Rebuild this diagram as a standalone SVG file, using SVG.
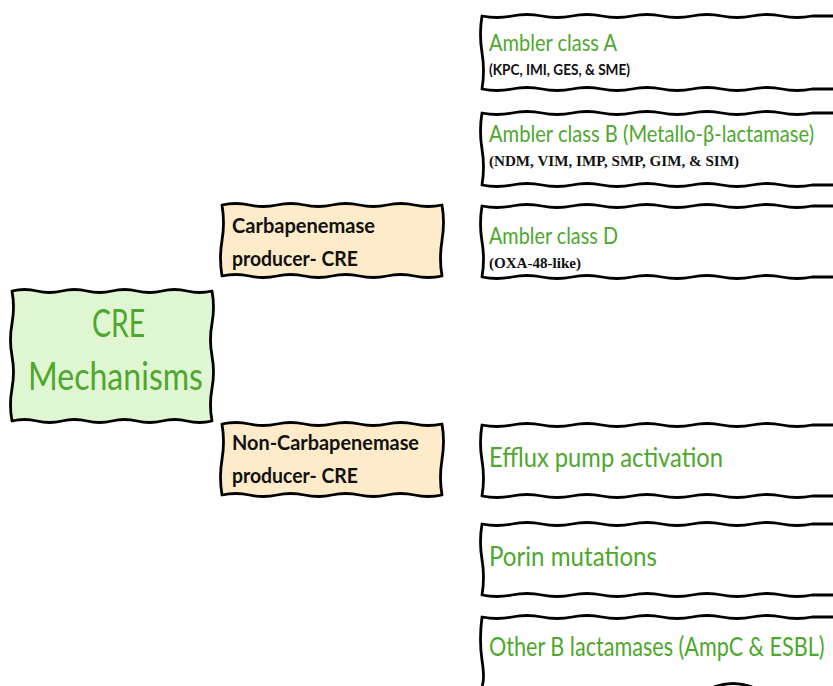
<svg xmlns="http://www.w3.org/2000/svg" width="833" height="686" viewBox="0 0 833 686">
<style>
.box{stroke:#000;stroke-width:2.8;stroke-linejoin:round;stroke-linecap:round;fill:#fff}
.open{stroke:#000;stroke-width:2.8;stroke-linejoin:round;fill:none}
.g{fill:#e0f6d2}
.o{fill:#fdebc9}
.gt{font-family:Lato,"Open Sans",sans-serif;fill:#4ea72e}
.bt{font-family:Lato,"Open Sans",sans-serif;font-weight:700;fill:#111}
.st{font-family:"Liberation Serif","Times New Roman",serif;font-weight:700;fill:#111}
</style>
<rect width="833" height="686" fill="#fff"/>
<g id="connectors"></g>
<g id="node-cre">
<path class="box g" d="M12,291 Q24.5,288 37,291 T62,291 T87,291 T112,291 T137,291 T162,291 T187,291 T212,291 Q215,307 212,323.5 T212,356 T212,388.5 T212,421 Q199.5,424 187,421 T162,421 T137,421 T112,421 T87,421 T62,421 T37,421 T12,421 Q9,405 12,388.5 T12,356 T12,323.5 T12,291 Z"/>
<text class="gt" x="92" y="337" font-size="38" textLength="53" lengthAdjust="spacingAndGlyphs">CRE</text>
<text class="gt" x="28" y="390" font-size="38" textLength="175" lengthAdjust="spacingAndGlyphs">Mechanisms</text>
</g>
<g id="node-carb">
<path class="box o" d="M222,205 Q235.75,202 249.5,205 T277,205 T304.5,205 T332,205 T359.5,205 T387,205 T414.5,205 T442,205 Q445,222 442,240.5 T442,276 Q428.25,279 414.5,276 T387,276 T359.5,276 T332,276 T304.5,276 T277,276 T249.5,276 T222,276 Q219,258 222,240.5 T222,205 Z"/>
<text class="bt" x="232" y="233" font-size="21" textLength="143" lengthAdjust="spacingAndGlyphs">Carbapenemase</text>
<text class="bt" x="232" y="266" font-size="21" textLength="126" lengthAdjust="spacingAndGlyphs">producer- CRE</text>
</g>
<g id="node-noncarb">
<path class="box o" d="M222,424 Q235.75,421 249.5,424 T277,424 T304.5,424 T332,424 T359.5,424 T387,424 T414.5,424 T442,424 Q445,441 442,459.5 T442,495 Q428.25,498 414.5,495 T387,495 T359.5,495 T332,495 T304.5,495 T277,495 T249.5,495 T222,495 Q219,477 222,459.5 T222,424 Z"/>
<text class="bt" x="232" y="450" font-size="21" textLength="187" lengthAdjust="spacingAndGlyphs">Non-Carbapenemase</text>
<text class="bt" x="232" y="483" font-size="21" textLength="126" lengthAdjust="spacingAndGlyphs">producer- CRE</text>
</g>
<g id="node-classA">
<path class="open" d="M833,16 L812,16 Q797,19 782,16 T752,16 T722,16 T692,16 T662,16 T632,16 T602,16 T572,16 T542,16 T512,16 T482,16 Q479,34 482,52.5 T482,89 Q497,92 512,89 T542,89 T572,89 T602,89 T632,89 T662,89 T692,89 T722,89 T752,89 T782,89 T812,89 L833,89"/>
<text class="gt" x="489" y="51" font-size="23" textLength="128" lengthAdjust="spacingAndGlyphs">Ambler class A</text>
<text class="bt" x="489" y="75" font-size="15" textLength="141" lengthAdjust="spacingAndGlyphs">(KPC, IMI, GES, &amp; SME)</text>
</g>
<g id="node-classB">
<path class="open" d="M833,113 L812,113 Q797,116 782,113 T752,113 T722,113 T692,113 T662,113 T632,113 T602,113 T572,113 T542,113 T512,113 T482,113 Q479,131 482,149 T482,185 Q497,188 512,185 T542,185 T572,185 T602,185 T632,185 T662,185 T692,185 T722,185 T752,185 T782,185 T812,185 L833,185"/>
<text class="gt" transform="translate(489,142) scale(0.876,1)" font-size="23">Ambler class B (Metallo-β-lactamase)</text>
<text class="st" x="489" y="166" font-size="15" textLength="250" lengthAdjust="spacingAndGlyphs">(NDM, VIM, IMP, SMP, GIM, &amp; SIM)</text>
</g>
<g id="node-classD">
<path class="open" d="M833,206 L812,206 Q797,209 782,206 T752,206 T722,206 T692,206 T662,206 T632,206 T602,206 T572,206 T542,206 T512,206 T482,206 Q479,224 482,241.5 T482,277 Q497,280 512,277 T542,277 T572,277 T602,277 T632,277 T662,277 T692,277 T722,277 T752,277 T782,277 T812,277 L833,277"/>
<text class="gt" x="489" y="244" font-size="23" textLength="129" lengthAdjust="spacingAndGlyphs">Ambler class D</text>
<text class="st" x="489" y="268" font-size="15" textLength="92" lengthAdjust="spacingAndGlyphs">(OXA-48-like)</text>
</g>
<g id="node-efflux">
<path class="open" d="M833,425 L812,425 Q797,428 782,425 T752,425 T722,425 T692,425 T662,425 T632,425 T602,425 T572,425 T542,425 T512,425 T482,425 Q479,443 482,460.5 T482,496 Q497,499 512,496 T542,496 T572,496 T602,496 T632,496 T662,496 T692,496 T722,496 T752,496 T782,496 T812,496 L833,496"/>
<text class="gt" x="489" y="467" font-size="27" textLength="234" lengthAdjust="spacingAndGlyphs">Efflux pump activation</text>
</g>
<g id="node-porin">
<path class="open" d="M833,524 L812,524 Q797,527 782,524 T752,524 T722,524 T692,524 T662,524 T632,524 T602,524 T572,524 T542,524 T512,524 T482,524 Q479,542 482,559.5 T482,595 Q497,598 512,595 T542,595 T572,595 T602,595 T632,595 T662,595 T692,595 T722,595 T752,595 T782,595 T812,595 L833,595"/>
<text class="gt" x="489" y="566" font-size="27" textLength="168" lengthAdjust="spacingAndGlyphs">Porin mutations</text>
</g>
<g id="node-other">
<path class="open" d="M833,617 L812,617 Q797,620 782,617 T752,617 T722,617 T692,617 T662,617 T632,617 T602,617 T572,617 T542,617 T512,617 T482,617 Q479,640 482,660 T482,686"/>
<text class="gt" transform="translate(489,656) scale(0.8,1)" font-size="27">Other B lactamases (AmpC &amp; ESBL)</text>
<path d="M714,687 Q733,680 752,687" fill="none" stroke="#000" stroke-width="3"/>
</g>
</svg>
